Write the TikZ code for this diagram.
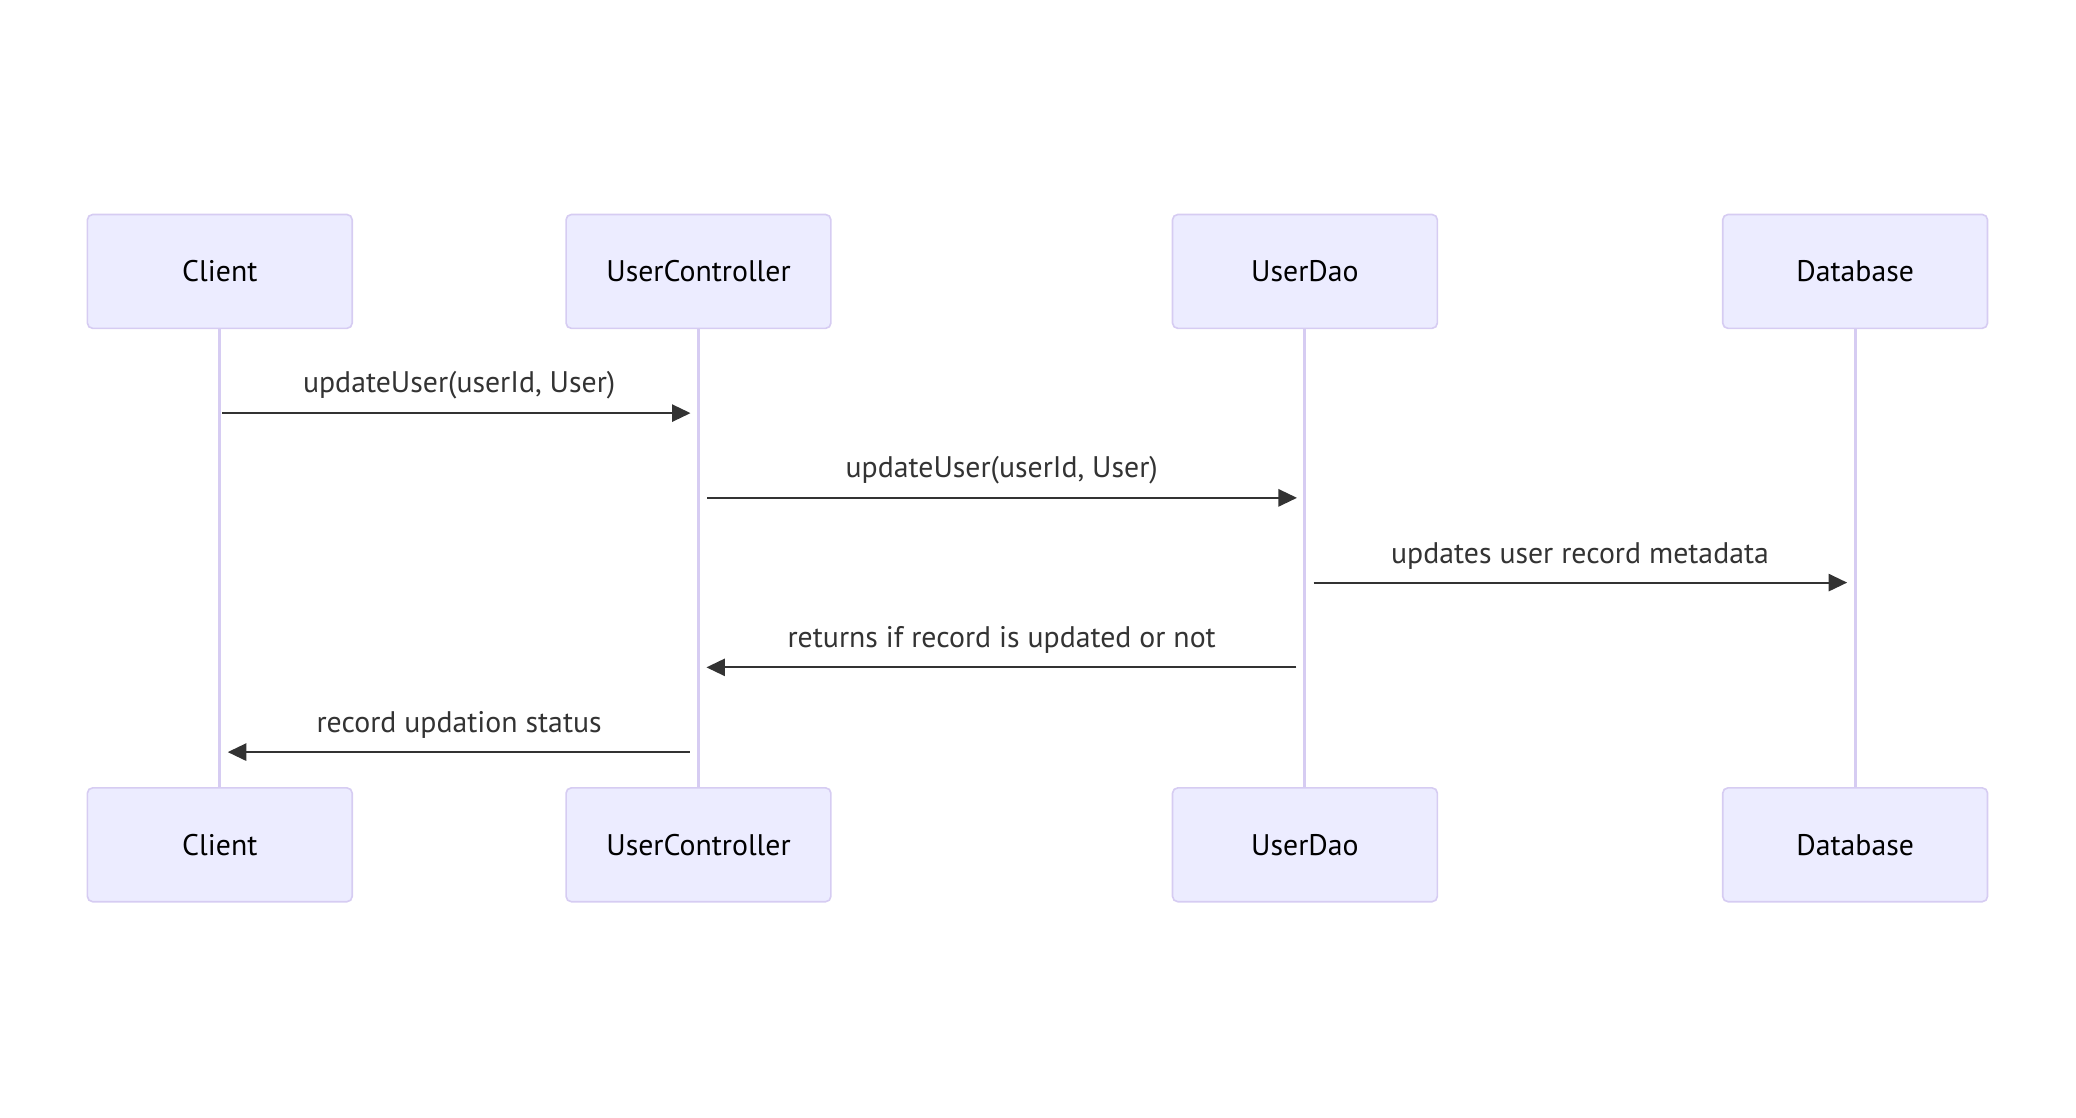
\documentclass[tikz,border=0pt]{standalone}
\usepackage{fontspec}
\setmainfont{PT Sans}
\usepackage{xcolor}
\usepackage{tikz}
\usetikzlibrary{arrows.meta,calc,positioning}

\definecolor{actfill}{HTML}{ECECFF}
\definecolor{actline}{HTML}{D6CCF2}
\definecolor{msgcol}{HTML}{333333}

\tikzset{
	actor/.style={draw=actline,fill=actfill,line width=0.35pt,rounded corners=0.04cm,
		minimum width=2cm,minimum height=0.86cm,inner sep=0pt,font=\fontsize{6.4}{7.5}\selectfont},
	life/.style={draw=actline,line width=0.65pt},
	msg/.style={draw=msgcol,line width=0.45pt,-{Triangle[length=0.14cm,width=0.13cm]},
		shorten <=0.065cm,shorten >=0.06cm},
	lbl/.style={above=0.06cm,text=msgcol,font=\fontsize{6.4}{7.5}\selectfont,inner sep=1pt}
}

\begin{document}
\begin{tikzpicture}
	\useasboundingbox (0,-0.042) rectangle (15.678,8.4);
	% actors, top and bottom, with lifelines
	\foreach \n/\t/\x in {client/Client/1.66, ctrl/UserController/5.275, dao/UserDao/9.855, db/Database/14.01}{
		\node[actor] (\n) at (\x,6.35) {\t};
		\node[actor] (\n2) at (\x,2.02) {\t};
		\draw[life] (\n) -- (\n2);
	}
	% messages
	\draw[msg,shorten <=0.02cm] (client |- 0,5.28) -- (ctrl |- 0,5.28)	node[lbl,midway]	{updateUser(userId, User)};
	\draw[msg] (ctrl |- 0,4.64) -- (dao |- 0,4.64)		node[lbl,midway]	{updateUser(userId, User)};
	\draw[msg] (dao |- 0,4.00) -- (db |- 0,4.00)		node[lbl,midway]	{updates user record metadata};
	\draw[msg] (dao |- 0,3.36) -- (ctrl |- 0,3.36)		node[lbl,midway]	{returns if record is updated or not};
	\draw[msg] (ctrl |- 0,2.72) -- (client |- 0,2.72)	node[lbl,midway]	{record updation status};
\end{tikzpicture}
\end{document}
